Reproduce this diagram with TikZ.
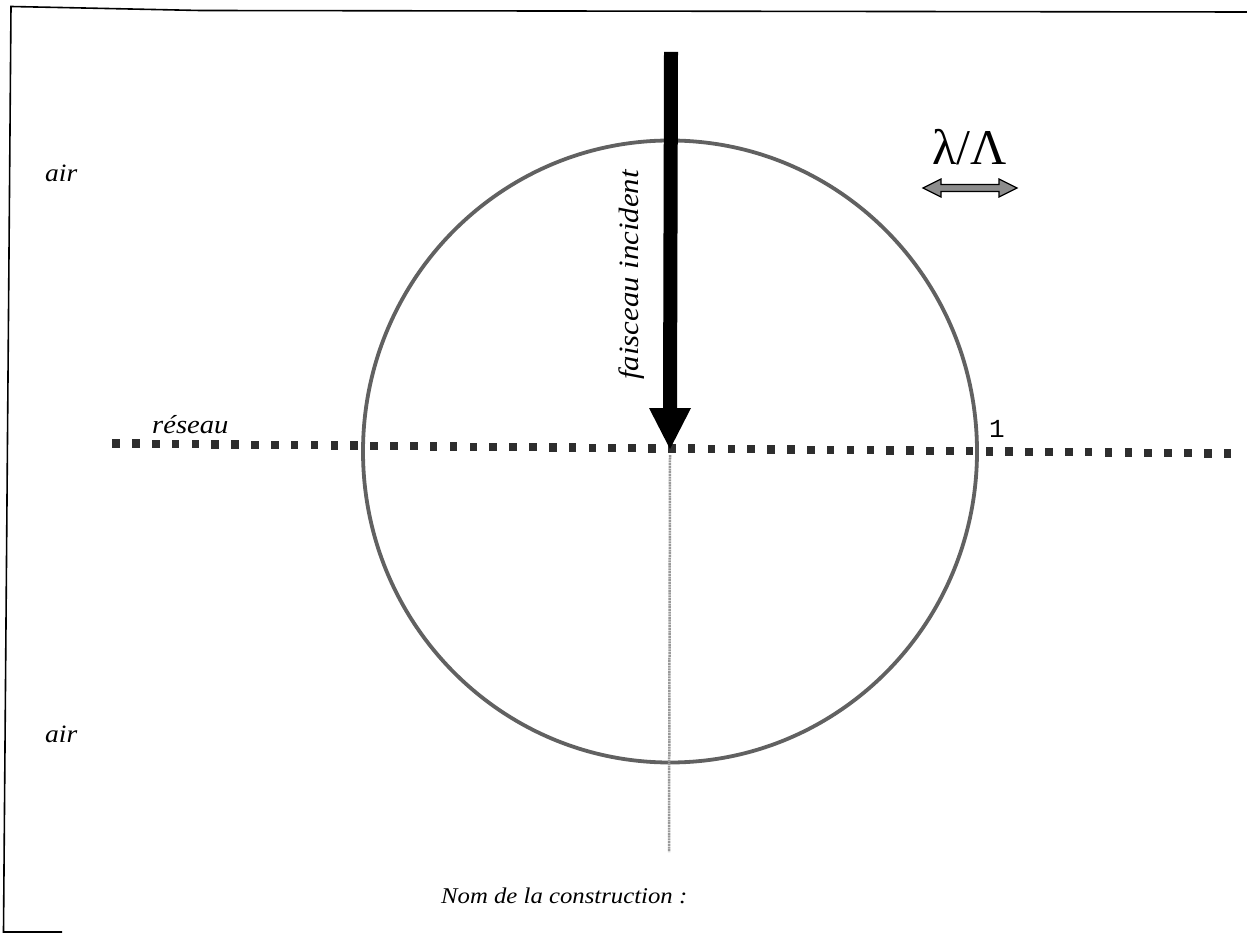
\documentclass[tikz,border=0pt]{standalone}
\usepackage{fontspec}
\setmainfont{Liberation Serif}
\newfontfamily\wideserif[FakeStretch=1.1]{Liberation Serif}
\newfontfamily\greekserif{Liberation Serif}
\newfontfamily\monofnt{Liberation Mono}
\usetikzlibrary{calc}
\tikzset{
  lbl/.style={inner sep=0pt, anchor=base west, font=\wideserif\itshape\fontsize{26}{30}\selectfont},
  frameline/.style={line width=1.6pt, black},
  gratsq/.style={fill=black!82, draw=none},
  circ/.style={draw=black!62, line width=3.8pt},
  axisline/.style={draw=black!40, line width=2.5pt, dash pattern=on 2pt off 0.7pt},
}
\begin{document}
\begin{tikzpicture}[x=1pt,y=-1pt]
\useasboundingbox (0,0) rectangle (1247,933);
\fill[white] (0,0) rectangle (1247,933);
% frame (scan edges)
\draw[frameline] (1247,12) -- (200,10.5) -- (60,7.5) -- (11,6.5) -- (3.5,932) -- (62,932);
% circle
\draw[circ] (670,451.5) ellipse [x radius=307, y radius=311];
% vertical axis below grating
\coordinate (axtop) at (670,455);
\coordinate (axbot) at (669,852);
\draw[axisline] (axtop) -- (axbot);
% grating
\foreach \i in {0,...,56}{
  \pgfmathsetmacro{\xx}{116+19.85*\i}
  \pgfmathsetmacro{\yy}{443.5+\i*10/56}
  \fill[gratsq] (\xx-3.8,\yy-4.2) rectangle (\xx+3.8,\yy+4.2);
}
% incident beam arrow
\coordinate (beamtop) at (671,52);
\coordinate (beamtip) at (670,449);
\fill[black] (664,52) -- (678,52) -- (677,408) -- (691,408) -- (beamtip) -- (649,408) -- (663,408) -- cycle;
% labels
\node[lbl, font=\wideserif\itshape\fontsize{25}{29}\selectfont] (airtop) at (45,182) {air};
\node[lbl, font=\wideserif\itshape\fontsize{25}{29}\selectfont] (airbot) at (45,742) {air};
\node[lbl] (reseau) at (152,433) {réseau};
\node[lbl, font=\wideserif\itshape\fontsize{28}{32}\selectfont, rotate=90] (faisceau) at (638,380) {faisceau incident};
\node[lbl, font=\wideserif\itshape\fontsize{22.5}{27}\selectfont] (nom) at (441,903) {Nom de la construction :};
\node[inner sep=0pt, anchor=base west, font=\monofnt\fontsize{26}{30}\selectfont] (one) at (989,437) {1};
\node[inner sep=0pt, anchor=base west, font=\greekserif\fontsize{50}{56}\selectfont] (ratio) at (932,165) {λ/Λ};
% double arrow under ratio
\coordinate (dl) at (923,188);
\coordinate (dr) at (1017,188);
\filldraw[fill=black!45, draw=black, line width=1.2pt]
  (dl) -- (941,179) -- (941,184.5) -- (999,184.5) -- (999,179) -- (dr)
  -- (999,197) -- (999,191.5) -- (941,191.5) -- (941,197) -- cycle;
\end{tikzpicture}
\end{document}
